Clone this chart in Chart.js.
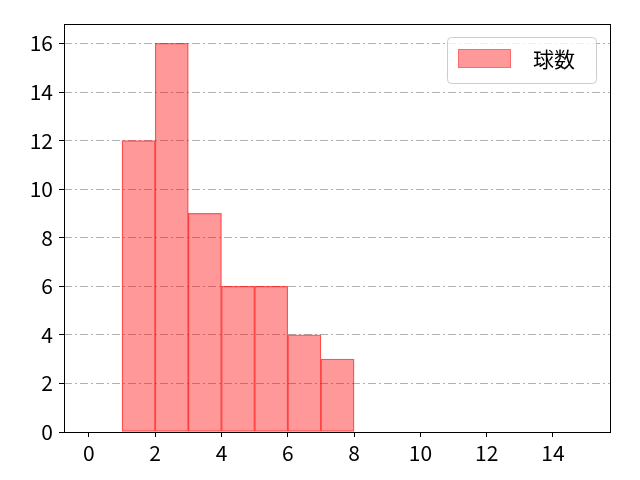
<!DOCTYPE html>
<html>
<head>
<meta charset="utf-8">
<script src="https://cdn.jsdelivr.net/npm/chart.js@4.4.0/dist/chart.umd.min.js"></script>
<style>
  html, body { margin: 0; padding: 0; background: #fff; }
  #wrap { width: 640px; height: 480px; }
</style>
</head>
<body>
<div id="wrap"><canvas id="pitchChart" width="640" height="480"></canvas></div>
<script>
// histogram bins (edges) and counts
const binEdges = [1, 2, 3, 4, 5, 6, 7, 8];
const binCounts = [12, 16, 9, 6, 6, 4, 3];
const seriesLabel = "球数";
const xTicks = [0, 2, 4, 6, 8, 10, 12, 14];
const yTicks = [0, 2, 4, 6, 8, 10, 12, 14, 16];

const fontName = "'Noto Sans CJK JP', 'Noto Sans', sans-serif";
const barFill = "rgba(255, 0, 0, 0.4)";
const barEdge = "rgba(255, 0, 0, 0.6)";

let points = [];
for (let i = 0; i < binCounts.length; i++) {
    points.push({ x: (binEdges[i] + binEdges[i + 1]) / 2, y: binCounts[i] });
}

// black frame round the plot + legend box in the top right
const framePlugin = {
    id: "frame",
    afterDraw(chart) {
        let ctx = chart.ctx;
        let a = chart.chartArea;
        ctx.save();
        ctx.strokeStyle = "#000";
        ctx.lineWidth = 1;
        ctx.strokeRect(Math.round(a.left) + 0.5, Math.round(a.top) + 0.5,
            Math.round(a.right - a.left) - 1, Math.round(a.bottom - a.top));

        // legend
        let bx = a.right - 164, by = a.top + 13, bw = 149, bh = 46;
        ctx.beginPath();
        ctx.roundRect(bx + 0.5, by + 0.5, bw, bh, 4);
        ctx.fillStyle = "rgba(255,255,255,0.8)";
        ctx.fill();
        ctx.strokeStyle = "#cccccc";
        ctx.stroke();

        ctx.fillStyle = barFill;
        ctx.fillRect(bx + 11, by + 12, 53, 19);
        ctx.strokeStyle = "rgba(255, 0, 0, 0.3)";
        ctx.strokeRect(bx + 11.5, by + 12.5, 52, 18);

        ctx.fillStyle = "#000";
        ctx.font = "21px " + fontName;
        ctx.textBaseline = "middle";
        ctx.fillText(seriesLabel, bx + 86, by + 22);
        ctx.restore();
    }
};

new Chart("pitchChart", {
    type: "bar",
    data: {
        datasets: [{
            label: seriesLabel,
            data: points,
            backgroundColor: barFill,
            borderColor: barEdge,
            borderWidth: 0.6,
            borderSkipped: false,
            barPercentage: 1,
            categoryPercentage: 1,
            grouped: false
        }]
    },
    options: {
        responsive: false,
        animation: false,
        devicePixelRatio: 1,
        layout: { padding: { left: 0, top: 24, right: 29, bottom: 0 } },
        plugins: {
            legend: { display: false },
            tooltip: { enabled: false }
        },
        scales: {
            x: {
                type: "linear",
                offset: false,
                min: -0.75,
                max: 15.75,
                afterBuildTicks: function (scale) {
                    scale.ticks = xTicks.map(v => ({ value: v }));
                },
                afterFit: function (scale) { scale.height = 48; },
                ticks: {
                    color: "#000",
                    font: { family: fontName, size: 21 },
                    padding: 3,
                    maxRotation: 0,
                    autoSkip: false
                },
                grid: {
                    offset: false,
                    drawOnChartArea: false,
                    tickLength: 5,
                    tickColor: "#000"
                },
                border: { display: false }
            },
            y: {
                min: 0,
                max: 16.8,
                afterBuildTicks: function (scale) {
                    scale.ticks = yTicks.map(v => ({ value: v }));
                },
                afterFit: function (scale) { scale.width = 64; },
                ticks: {
                    color: "#000",
                    font: { family: fontName, size: 21 },
                    padding: 6,
                    autoSkip: false
                },
                grid: {
                    color: "#b0b0b0",
                    tickColor: "#000",
                    tickLength: 5,
                    dash: [8, 3, 2, 3],
                    borderDash: [8, 3, 2, 3],
                    tickBorderDash: []
                },
                border: { display: false, dash: [8, 3, 2, 3] }
            }
        }
    },
    plugins: [framePlugin]
});
</script>
</body>
</html>
